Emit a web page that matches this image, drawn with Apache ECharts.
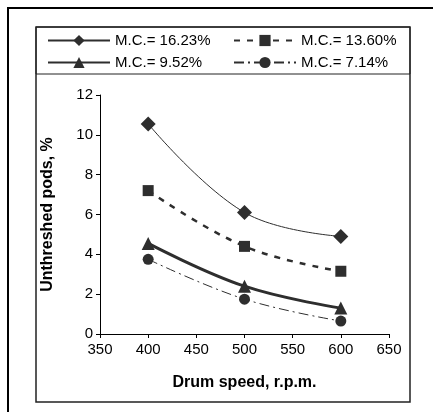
<!DOCTYPE html>
<html>
<head>
<meta charset="utf-8">
<script src="https://cdn.jsdelivr.net/npm/echarts@6/dist/echarts.min.js"></script>
<style>
  html, body { margin: 0; padding: 0; background: #fff; }
  #chart { width: 433px; height: 412px; }
</style>
</head>
<body>
<div id="chart"></div>
<script>
// drum speed (r.p.m.) and unthreshed pods (%) per moisture content
const speeds = [400, 500, 600]
const mc1623 = [10.55, 6.1, 4.9]
const mc1360 = [7.2, 4.4, 3.15]
const mc952 = [4.55, 2.4, 1.3]
const mc714 = [3.75, 1.75, 0.65]
const seriesNames = ['M.C.= 16.23%', 'M.C.= 13.60%', 'M.C.= 9.52%', 'M.C.= 7.14%']

const ink = '#2e2e2e'
const font = '"Liberation Sans", Arial, sans-serif'
const pairs = vals => speeds.map((s, i) => [s, vals[i]])

const chart = echarts.init(document.getElementById('chart'), null, { renderer: 'canvas' })

const legendBase = {
  orient: 'vertical', top: 33, padding: 0, itemWidth: 62, itemHeight: 14, itemGap: 7,
  textStyle: { fontFamily: font, fontSize: 15, color: '#000' },
  selectedMode: false
}

chart.setOption({
  animation: false,
  textStyle: { fontFamily: font },
  graphic: [
    { type: 'rect', shape: { x: 8, y: 8, width: 460, height: 440 }, style: { fill: 'none', stroke: '#000', lineWidth: 2 }, silent: true },
    { type: 'rect', shape: { x: 36, y: 27, width: 374, height: 375 }, style: { fill: 'none', stroke: '#222', lineWidth: 1.5 }, silent: true },
    { type: 'rect', shape: { x: 36, y: 27, width: 374, height: 47 }, style: { fill: 'none', stroke: '#222', lineWidth: 1 }, silent: true }
  ],
  legend: [
    Object.assign({ left: 47, data: [seriesNames[0], seriesNames[2]] }, legendBase),
    Object.assign({ left: 233, data: [seriesNames[1], seriesNames[3]] }, legendBase)
  ],
  grid: { left: 100, right: 44, top: 95, bottom: 78 },
  xAxis: {
    type: 'value', min: 350, max: 650, interval: 50,
    name: 'Drum speed, r.p.m.', nameLocation: 'middle', nameGap: 41,
    nameTextStyle: { fontSize: 16, fontWeight: 'bold', color: '#000' },
    axisLine: { lineStyle: { color: '#000', width: 1 } },
    axisTick: { show: true, length: 4, lineStyle: { color: '#000' } },
    axisLabel: { fontSize: 15, color: '#000', margin: 8 },
    splitLine: { show: false }
  },
  yAxis: {
    type: 'value', min: 0, max: 12, interval: 2,
    name: 'Unthreshed pods, %', nameLocation: 'middle', nameGap: 44,
    nameTextStyle: { fontSize: 16, fontWeight: 'bold', color: '#000' },
    axisLine: { show: true, lineStyle: { color: '#000', width: 1 } },
    axisTick: { show: true, length: 4, lineStyle: { color: '#000' } },
    axisLabel: { fontSize: 15, color: '#000', margin: 7 },
    splitLine: { show: false }
  },
  series: [
    {
      name: seriesNames[0], type: 'line', data: pairs(mc1623), smooth: 0.4,
      symbol: 'diamond', symbolSize: 15,
      itemStyle: { color: ink }, lineStyle: { color: ink, width: 1 }
    },
    {
      name: seriesNames[1], type: 'line', data: pairs(mc1360), smooth: 0.4,
      symbol: 'rect', symbolSize: 11,
      itemStyle: { color: ink }, lineStyle: { color: ink, width: 2.5, type: [6, 7] }
    },
    {
      name: seriesNames[2], type: 'line', data: pairs(mc952), smooth: 0.4,
      symbol: 'triangle', symbolSize: 13,
      itemStyle: { color: ink }, lineStyle: { color: ink, width: 3 }
    },
    {
      name: seriesNames[3], type: 'line', data: pairs(mc714), smooth: 0.4,
      symbol: 'circle', symbolSize: 11,
      itemStyle: { color: ink }, lineStyle: { color: ink, width: 1, type: [10, 4, 2, 4] }
    }
  ]
})
</script>
</body>
</html>
